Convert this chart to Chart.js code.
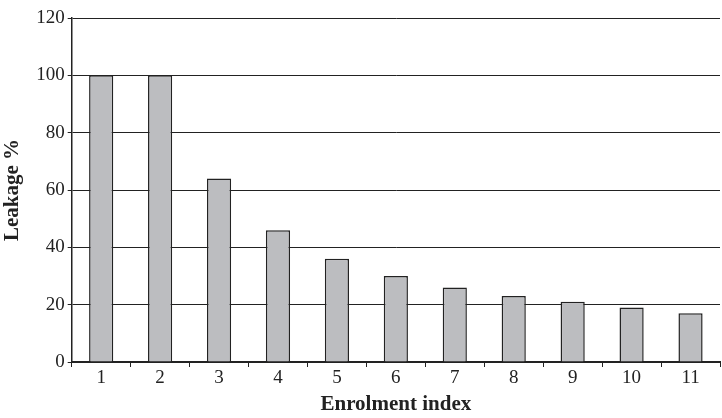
<!DOCTYPE html>
<html>
<head>
<meta charset="utf-8">
<script src="https://cdn.jsdelivr.net/npm/chart.js@4/dist/chart.umd.min.js"></script>
<style>
  html, body { margin: 0; padding: 0; background: #fff; }
  #wrap { width: 722px; height: 418px; }
</style>
</head>
<body>
<div id="wrap"><canvas id="chart" width="722" height="418"></canvas></div>
<script>
const categories = ["1", "2", "3", "4", "5", "6", "7", "8", "9", "10", "11"];
const leakage = [100, 100, 64, 46, 36, 30, 26, 23, 21, 19, 17];
const yTicks = [0, 20, 40, 60, 80, 100, 120];

const font = { family: "'Liberation Serif', 'DejaVu Serif', serif", size: 19 };
const titleFont = { family: "'Liberation Serif', 'DejaVu Serif', serif", size: 21, weight: "bold" };

new Chart(document.getElementById("chart").getContext("2d"), {
  type: "bar",
  data: {
    labels: categories,
    datasets: [
      {
        label: "Leakage %",
        data: leakage,
        backgroundColor: "#bcbdc0",
        borderColor: "#222",
        borderWidth: 1.5,
        barPercentage: 0.41,
        categoryPercentage: 1,
      },
    ],
  },
  options: {
    responsive: false,
    animation: false,
    layout: { padding: { top: 18, right: 2, left: 0, bottom: 1 } },
    plugins: {
      legend: { display: false },
      tooltip: { enabled: false },
    },
    scales: {
      x: {
        offset: true,
        grid: {
          offset: true,
          drawOnChartArea: false,
          drawTicks: true,
          tickLength: 5,
          color: "#222",
          lineWidth: 1,
        },
        border: { color: "#222", width: 2 },
        ticks: { color: "#222", font: font, padding: 0 },
        title: {
          display: true,
          text: "Enrolment index",
          color: "#222",
          font: titleFont,
          padding: { top: 2, bottom: 0 },
        },
      },
      y: {
        min: 0,
        max: 120,
        afterBuildTicks: (axis) => {
          axis.ticks = yTicks.map((v) => ({ value: v }));
        },
        grid: {
          color: "#222",
          lineWidth: 1,
          tickLength: 4,
        },
        border: { color: "#222", width: 1.5 },
        ticks: { color: "#222", font: font, padding: 3 },
        title: {
          display: true,
          text: "Leakage %",
          color: "#222",
          font: titleFont,
          padding: { top: 0, bottom: 8 },
        },
      },
    },
  },
});
</script>
</body>
</html>
